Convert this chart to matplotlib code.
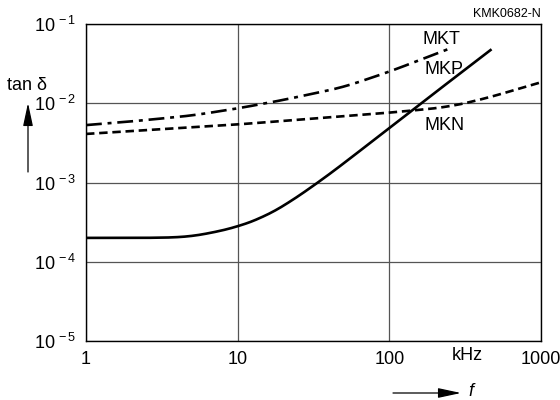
import numpy as np
import matplotlib.pyplot as plt
import matplotlib as mpl

mpl.rcParams['font.family'] = ['Liberation Sans', 'DejaVu Sans']
mpl.rcParams['mathtext.fontset'] = 'custom'
mpl.rcParams['mathtext.rm'] = 'Liberation Sans'
mpl.rcParams['mathtext.it'] = 'Liberation Sans:italic'

# frequency in kHz, tan delta values
f_mkp = [1, 2.6, 4.4, 5.5, 7.3, 10, 15, 20, 34, 55, 100, 200, 472]
tan_mkp = [2e-4, 2e-4, 2.04e-4, 2.15e-4, 2.4e-4, 2.75e-4, 3.7e-4, 5.0e-4,
           1.0e-3, 2.0e-3, 4.9e-3, 1.36e-2, 4.8e-2]

f_mkt = [1, 2, 5, 10, 20, 50, 100, 243]
tan_mkt = [5.3e-3, 5.9e-3, 7.0e-3, 8.6e-3, 1.1e-2, 1.6e-2, 2.5e-2, 4.8e-2]

f_mkn = [1, 10, 100, 238, 395, 600, 1000]
tan_mkn = [4.1e-3, 5.4e-3, 7.6e-3, 8.9e-3, 1.1e-2, 1.38e-2, 1.84e-2]

xticks = [1, 10, 100, 1000]
xlabels = ['1', '10', '100', '1000']
yticks = [1e-5, 1e-4, 1e-3, 1e-2, 1e-1]
ylabels = [r'$10^{\,-5}$', r'$10^{\,-4}$', r'$10^{\,-3}$', r'$10^{\,-2}$', r'$10^{\,-1}$']


def smooth(fx, fy, k=18):
    lx = np.log10(fx)
    ly = np.log10(fy)
    xs = np.linspace(lx[0], lx[-1], 400)
    ys = np.interp(xs, lx, ly)
    # pad with linear extension so the ends keep their slope
    dl = (ys[1] - ys[0])
    dr = (ys[-1] - ys[-2])
    left = ys[0] - dl * np.arange(k, 0, -1)
    right = ys[-1] + dr * np.arange(1, k + 1)
    pad = np.concatenate([left, ys, right])
    ys2 = np.convolve(pad, np.ones(2 * k + 1) / (2 * k + 1), mode='same')[k:-k]
    return 10 ** xs, 10 ** ys2


fig = plt.figure(figsize=(5.6, 4.0), dpi=100)
ax = fig.add_axes([86 / 560, 1 - 341 / 400, 455 / 560, 317 / 400])

x, y = smooth(f_mkp, tan_mkp)
ax.plot(x, y, color='black', lw=1.9, solid_capstyle='butt')
x, y = smooth(f_mkt, tan_mkt)
ax.plot(x, y, color='black', lw=1.9, dashes=(6, 2.2, 1.5, 2.2))
x, y = smooth(f_mkn, tan_mkn)
ax.plot(x, y, color='black', lw=1.9, dashes=(3.2, 1.8))

ax.set_xscale('log')
ax.set_yscale('log')
ax.set_xlim(1, 1000)
ax.set_ylim(1e-5, 1e-1)
ax.set_xticks(xticks)
ax.set_xticklabels(xlabels)
ax.set_yticks(yticks)
ax.set_yticklabels(ylabels)
ax.minorticks_off()
ax.tick_params(length=0, labelsize=13, pad=7)
ax.grid(True, color='#555555', lw=0.9)
for s in ax.spines.values():
    s.set_linewidth(1.0)


def ftext(px, py, s, **kw):
    fig.text(px / 560, 1 - py / 400, s, **kw)


ftext(423, 39, 'MKT', fontsize=13, va='center', ha='left')
ftext(424, 70, 'MKP', fontsize=13, va='center', ha='left')
ftext(424, 125, 'MKN', fontsize=13, va='center', ha='left')
ftext(541, 14, 'KMK0682-N', fontsize=9, ha='right', va='center')
ftext(467, 356, 'kHz', fontsize=13, ha='center', va='center')
ftext(7, 85, 'tan δ', fontsize=13, ha='left', va='center')
ftext(471, 392, 'f', fontsize=13, style='italic', ha='center', va='center')


def farrow(p0, p1):
    fig.add_artist(mpl.patches.FancyArrowPatch(
        (p0[0] / 560, 1 - p0[1] / 400), (p1[0] / 560, 1 - p1[1] / 400),
        transform=fig.transFigure, arrowstyle='-|>,head_length=14,head_width=3',
        color='black', lw=0.9, mutation_scale=1, shrinkA=0, shrinkB=0))


farrow((28, 172), (28, 103))
farrow((393, 393), (461, 393))

fig.savefig('out.png', dpi=100)
